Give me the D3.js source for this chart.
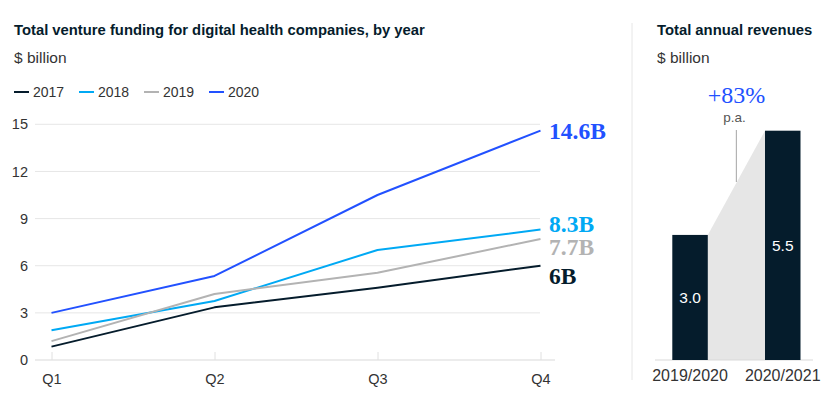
<!DOCTYPE html>
<html><head><meta charset="utf-8">
<script src="https://cdn.jsdelivr.net/npm/d3@7"></script>
<style>body{margin:0;background:#fff}svg{display:block}</style>
</head><body>
<svg id="c" width="833" height="400"></svg>
<script>
const quarters = ["Q1","Q2","Q3","Q4"];
const years = ["2017","2018","2019","2020"];
const v2017 = [0.85, 3.35, 4.6, 6.0];
const v2018 = [1.9, 3.75, 7.0, 8.3];
const v2019 = [1.2, 4.2, 5.55, 7.7];
const v2020 = [3.0, 5.35, 10.5, 14.6];
const endLabels = ["6B","8.3B","7.7B","14.6B"];
const yTicks = [0,3,6,9,12,15];
const revPeriods = ["2019/2020","2020/2021"];
const revValues = [3.0, 5.5];
const growthLabel = "+83%";

const colors = {"2017":"#051c2c","2018":"#00a9f4","2019":"#b3b3b3","2020":"#2251ff"};
const series = [v2017, v2018, v2019, v2020];
const labelShift = [10, -6, 8, 0];
const SANS = "'Liberation Sans', Arial, sans-serif";
const SERIF = "'Liberation Serif', 'DejaVu Serif', serif";

const svg = d3.select("#c");

// Titles
svg.append("text").attr("x",14).attr("y",35).attr("font-family",SANS).attr("font-weight","bold")
  .attr("font-size",14.8).attr("fill","#051c2c").text("Total venture funding for digital health companies, by year");
svg.append("text").attr("x",14).attr("y",63).attr("font-family",SANS)
  .attr("font-size",15.5).attr("fill","#333").text("$ billion");

// Legend
const lg = svg.append("g");
years.forEach((yr,i)=>{
  const x0 = 14 + i*65;
  lg.append("line").attr("x1",x0).attr("x2",x0+15).attr("y1",92).attr("y2",92)
    .attr("stroke",colors[yr]).attr("stroke-width",2);
  lg.append("text").attr("x",x0+19).attr("y",97).attr("font-family",SANS).attr("font-size",14)
    .attr("fill","#333").text(yr);
});

// Scales
const x = d3.scalePoint().domain(quarters).range([51.5,540.5]);
const y = d3.scaleLinear().domain([0,15]).range([360,124.3]);

// Gridlines
svg.append("g").selectAll("line").data(yTicks.filter(d=>d>0)).join("line")
  .attr("x1",35).attr("x2",540).attr("y1",d=>y(d)).attr("y2",d=>y(d))
  .attr("stroke","#e6e6e6").attr("stroke-width",1);
svg.append("line").attr("x1",35).attr("x2",555).attr("y1",y(0)).attr("y2",y(0))
  .attr("stroke","#d9d9d9").attr("stroke-width",1);

// Y axis labels
const yAxis = d3.axisLeft(y).tickValues(yTicks).tickSize(0).tickPadding(0);
const ya = svg.append("g").attr("transform","translate(28,0)").call(yAxis);
ya.select(".domain").remove();
ya.selectAll("text").attr("font-family",SANS).attr("font-size",14.5).attr("fill","#333");

// X axis
const xAxis = d3.axisBottom(x).tickSize(-8).tickPadding(14);
const xa = svg.append("g").attr("transform",`translate(0,${y(0)})`).call(xAxis);
xa.select(".domain").remove();
xa.selectAll("line").attr("stroke","#e0e0e0");
xa.selectAll("text").attr("font-family",SANS).attr("font-size",14.5).attr("fill","#333");

// Lines
const line = d3.line().x((d,i)=>x(quarters[i])).y(d=>y(d));
series.forEach((s,i)=>{
  svg.append("path").datum(s).attr("d",line).attr("fill","none")
    .attr("stroke",colors[years[i]]).attr("stroke-width",2).attr("stroke-linejoin","round");
});
// End labels
series.forEach((s,i)=>{
  svg.append("text").attr("x",549).attr("y",y(s[3])+labelShift[i]).attr("dy","0.34em")
    .attr("font-family",SERIF).attr("font-weight","bold").attr("font-size",23.5)
    .attr("fill",colors[years[i]]).text(endLabels[i]);
});

// Divider
svg.append("line").attr("x1",632).attr("x2",632).attr("y1",23).attr("y2",380)
  .attr("stroke","#e6e6e6").attr("stroke-width",1);

// Right panel
svg.append("text").attr("x",657).attr("y",35).attr("font-family",SANS).attr("font-weight","bold")
  .attr("font-size",14.8).attr("fill","#051c2c").text("Total annual revenues");
svg.append("text").attr("x",657).attr("y",63).attr("font-family",SANS)
  .attr("font-size",15.5).attr("fill","#333").text("$ billion");

const xb = d3.scaleBand().domain(revPeriods).range([672.3,800.5]).paddingInner(0.617).paddingOuter(0);
const yb = d3.scaleLinear().domain([0,5.5]).range([360,130.7]);

// connector polygon
const bw = xb.bandwidth();
const poly = [
  [xb(revPeriods[0])+bw, yb(revValues[0])],
  [xb(revPeriods[1]), yb(revValues[1])],
  [xb(revPeriods[1]), yb(0)],
  [xb(revPeriods[0])+bw, yb(0)]
];
svg.append("path").attr("d","M"+poly.map(p=>p.join(",")).join("L")+"Z").attr("fill","#e6e6e6");

svg.append("line").attr("x1",655).attr("x2",813).attr("y1",yb(0)).attr("y2",yb(0))
  .attr("stroke","#d9d9d9");

svg.append("g").selectAll("rect").data(revValues).join("rect")
  .attr("x",(d,i)=>xb(revPeriods[i])).attr("width",bw)
  .attr("y",d=>yb(d)).attr("height",d=>yb(0)-yb(d)).attr("fill","#051c2c");

svg.append("g").selectAll("text").data(revValues).join("text")
  .attr("x",(d,i)=>xb(revPeriods[i])+bw/2).attr("y",d=>(yb(d)+yb(0))/2).attr("dy","0.36em")
  .attr("text-anchor","middle").attr("font-family",SANS).attr("font-size",15.5).attr("fill","#fff")
  .text(d=>d.toFixed(1));

svg.append("g").selectAll("text").data(revPeriods).join("text")
  .attr("x",d=>xb(d)+bw/2).attr("y",381).attr("text-anchor","middle")
  .attr("font-family",SANS).attr("font-size",16).attr("fill","#333").text(d=>d);

// growth annotation
const gx = (poly[0][0]+poly[1][0])/2;
svg.append("text").attr("x",gx).attr("y",103).attr("text-anchor","middle")
  .attr("font-family",SERIF).attr("font-size",24).attr("fill","#2251ff").text(growthLabel);
svg.append("text").attr("x",gx-2).attr("y",122).attr("text-anchor","middle")
  .attr("font-family",SANS).attr("font-size",13.5).attr("fill","#555").text("p.a.");
svg.append("line").attr("x1",gx).attr("x2",gx).attr("y1",130).attr("y2",182)
  .attr("stroke","#b3b3b3").attr("stroke-width",1.2);
</script>
</body></html>
